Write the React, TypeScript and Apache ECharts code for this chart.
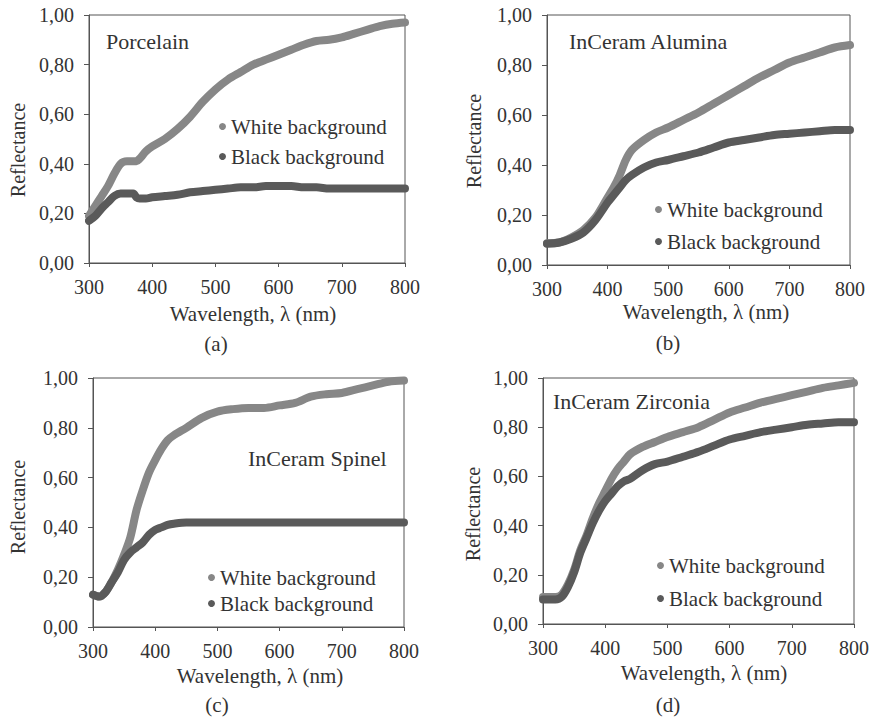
import React, { useEffect, useRef } from "react";
import * as echarts from "echarts";

// ---- Data (wavelength in nm, reflectance) ----
const porcelainWl = [300, 310, 320, 330, 340, 350, 360, 370, 375, 380, 390, 400, 420, 440, 460, 480, 500, 520, 540, 560, 580, 600, 620, 640, 660, 680, 700, 720, 740, 760, 780, 800];
const porcelainWhite = [0.19, 0.23, 0.27, 0.31, 0.36, 0.4, 0.41, 0.41, 0.41, 0.42, 0.45, 0.47, 0.5, 0.54, 0.59, 0.65, 0.7, 0.74, 0.77, 0.8, 0.82, 0.84, 0.86, 0.88, 0.895, 0.9, 0.91, 0.925, 0.94, 0.955, 0.965, 0.97];
const porcelainBlack = [0.17, 0.19, 0.22, 0.245, 0.27, 0.28, 0.28, 0.28, 0.265, 0.26, 0.26, 0.265, 0.27, 0.275, 0.285, 0.29, 0.295, 0.3, 0.305, 0.305, 0.31, 0.31, 0.31, 0.305, 0.305, 0.3, 0.3, 0.3, 0.3, 0.3, 0.3, 0.3];

const aluminaWl = [300, 320, 340, 360, 380, 400, 410, 420, 430, 440, 460, 480, 500, 525, 550, 575, 600, 625, 650, 675, 700, 725, 750, 775, 800];
const aluminaWhite = [0.087, 0.09, 0.11, 0.14, 0.19, 0.27, 0.31, 0.36, 0.42, 0.46, 0.5, 0.53, 0.55, 0.58, 0.61, 0.645, 0.68, 0.715, 0.75, 0.78, 0.81, 0.83, 0.85, 0.87, 0.88];
const aluminaBlack = [0.085, 0.09, 0.105, 0.13, 0.18, 0.25, 0.28, 0.31, 0.34, 0.36, 0.39, 0.41, 0.42, 0.435, 0.45, 0.47, 0.49, 0.5, 0.51, 0.52, 0.525, 0.53, 0.535, 0.54, 0.54];

const spinelWl = [300, 310, 320, 330, 340, 350, 360, 370, 380, 390, 400, 410, 420, 430, 450, 475, 500, 525, 550, 575, 600, 625, 650, 675, 700, 725, 750, 775, 800];
const spinelWhite = [0.13, 0.122, 0.14, 0.18, 0.23, 0.29, 0.36, 0.47, 0.55, 0.62, 0.67, 0.715, 0.75, 0.77, 0.8, 0.84, 0.865, 0.875, 0.88, 0.88, 0.89, 0.9, 0.925, 0.935, 0.94, 0.955, 0.97, 0.985, 0.99];
const spinelBlack = [0.13, 0.122, 0.14, 0.18, 0.22, 0.27, 0.3, 0.32, 0.34, 0.37, 0.39, 0.4, 0.41, 0.415, 0.42, 0.42, 0.42, 0.42, 0.42, 0.42, 0.42, 0.42, 0.42, 0.42, 0.42, 0.42, 0.42, 0.42, 0.42];

const zirconiaWl = [300, 310, 320, 330, 340, 350, 360, 370, 380, 390, 400, 410, 420, 430, 440, 460, 480, 500, 525, 550, 575, 600, 625, 650, 675, 700, 725, 750, 775, 800];
const zirconiaWhite = [0.11, 0.11, 0.11, 0.12, 0.16, 0.22, 0.3, 0.36, 0.43, 0.49, 0.54, 0.59, 0.63, 0.66, 0.69, 0.72, 0.74, 0.76, 0.78, 0.8, 0.83, 0.86, 0.88, 0.9, 0.915, 0.93, 0.945, 0.96, 0.97, 0.98];
const zirconiaBlack = [0.1, 0.1, 0.1, 0.11, 0.15, 0.21, 0.29, 0.35, 0.41, 0.46, 0.5, 0.53, 0.56, 0.58, 0.59, 0.625, 0.65, 0.66, 0.68, 0.7, 0.725, 0.75, 0.765, 0.78, 0.79, 0.8, 0.81, 0.815, 0.82, 0.82];

const seriesNames = ["White background", "Black background"];
const xTicks = { min: 300, max: 800, step: 100 };
const yTicks = { min: 0, max: 1, step: 0.2 };
const xTitle = "Wavelength, \u03bb (nm)";
const yTitle = "Reflectance";

// ---- Styles / layout ----
const WHITE = "#878787";
const BLACK = "#5a5a5a";
const TEXT = "#333333";
const AXIS = "#555555";
const FONT = "Liberation Serif";

const panels = [
  {
    title: "Porcelain", tag: "(a)", wl: porcelainWl, white: porcelainWhite, black: porcelainBlack,
    grid: { left: 89, top: 15, width: 316, height: 248 },
    legend: { left: 219, top: 116, gap: 9 },
    titlePos: [106, 41], tagPos: [216, 344], xNamePos: [253, 314], yNamePos: [18, 150],
  },
  {
    title: "InCeram Alumina", tag: "(b)", wl: aluminaWl, white: aluminaWhite, black: aluminaBlack,
    grid: { left: 547, top: 15, width: 303, height: 250 },
    legend: { left: 655, top: 199, gap: 11 },
    titlePos: [569, 41], tagPos: [668, 343], xNamePos: [706, 312], yNamePos: [474, 141],
  },
  {
    title: "InCeram Spinel", tag: "(c)", wl: spinelWl, white: spinelWhite, black: spinelBlack,
    grid: { left: 93, top: 378, width: 311, height: 249 },
    legend: { left: 208, top: 567, gap: 5 },
    titlePos: [248, 458], tagPos: [217, 705], xNamePos: [260, 676], yNamePos: [18, 507],
  },
  {
    title: "InCeram Zirconia", tag: "(d)", wl: zirconiaWl, white: zirconiaWhite, black: zirconiaBlack,
    grid: { left: 543, top: 378, width: 311, height: 246 },
    legend: { left: 657, top: 555, gap: 12 },
    titlePos: [553, 401], tagPos: [668, 705], xNamePos: [704, 673], yNamePos: [473, 514],
  },
];

const pairs = (xs: number[], ys: number[]) => xs.map((x, i) => [x, ys[i]]);

function text(str: string, x: number, y: number, size: number, align: string, rotation = 0) {
  return {
    type: "text",
    x,
    y,
    rotation,
    silent: true,
    style: {
      text: str,
      fontSize: size,
      fontFamily: FONT,
      fill: TEXT,
      align,
      verticalAlign: "middle",
    },
  };
}

export default function App() {
  const ref = useRef<HTMLDivElement>(null);

  useEffect(() => {
    if (!ref.current) return;
    const chart = echarts.init(ref.current, undefined, { renderer: "svg" });

    const grid = panels.map((p) => ({
      ...p.grid,
      show: true,
      borderColor: AXIS,
      borderWidth: 1,
      backgroundColor: "transparent",
      containLabel: false,
    }));

    const xAxis = panels.map((_, i) => ({
      type: "value",
      gridIndex: i,
      min: xTicks.min,
      max: xTicks.max,
      interval: xTicks.step,
      axisLine: { show: true, lineStyle: { color: AXIS, width: 1 } },
      axisTick: { show: true, inside: false, length: 4, lineStyle: { color: AXIS } },
      axisLabel: { fontSize: 20, fontFamily: FONT, color: TEXT, margin: 14 },
      splitLine: { show: false },
    }));

    const yAxis = panels.map((_, i) => ({
      type: "value",
      gridIndex: i,
      min: yTicks.min,
      max: yTicks.max,
      interval: yTicks.step,
      axisLine: { show: true, lineStyle: { color: AXIS, width: 1 } },
      axisTick: { show: true, inside: false, length: 5, lineStyle: { color: AXIS } },
      axisLabel: {
        fontSize: 20,
        fontFamily: FONT,
        color: TEXT,
        margin: 15,
        formatter: (v: number) => v.toFixed(2).replace(".", ","),
      },
      splitLine: { show: false },
    }));

    const series: any[] = [];
    panels.forEach((p, i) => {
      [
        { name: seriesNames[0], ys: p.white, color: WHITE },
        { name: seriesNames[1], ys: p.black, color: BLACK },
      ].forEach((s) => {
        series.push({
          type: "line",
          name: s.name,
          xAxisIndex: i,
          yAxisIndex: i,
          data: pairs(p.wl, s.ys),
          showSymbol: false,
          symbol: "circle",
          smooth: 0.3,
          clip: false,
          lineStyle: { color: s.color, width: 8, cap: "round", join: "round" },
          itemStyle: { color: s.color },
        });
      });
    });

    const legend = panels.map((p) => ({
      orient: "vertical",
      left: p.legend.left,
      top: p.legend.top,
      itemGap: p.legend.gap,
      itemWidth: 7,
      itemHeight: 7,
      padding: 0,
      icon: "circle",
      selectedMode: false,
      data: seriesNames,
      textStyle: { fontSize: 21, fontFamily: FONT, color: TEXT },
    }));

    const graphics: any[] = [];
    panels.forEach((p) => {
      graphics.push(text(p.title, p.titlePos[0], p.titlePos[1], 22, "left"));
      graphics.push(text(p.tag, p.tagPos[0], p.tagPos[1], 21, "center"));
      graphics.push(text(xTitle, p.xNamePos[0], p.xNamePos[1], 21, "center"));
      graphics.push(text(yTitle, p.yNamePos[0], p.yNamePos[1], 20, "center", Math.PI / 2));
    });

    chart.setOption({
      animation: false,
      backgroundColor: "#ffffff",
      grid,
      xAxis,
      yAxis,
      legend,
      series,
      graphic: graphics,
    });

    return () => chart.dispose();
  }, []);

  return (
    <div
      ref={ref}
      style={{ position: "fixed", left: 0, top: 0, width: 872, height: 718, background: "#fff" }}
    />
  );
}
